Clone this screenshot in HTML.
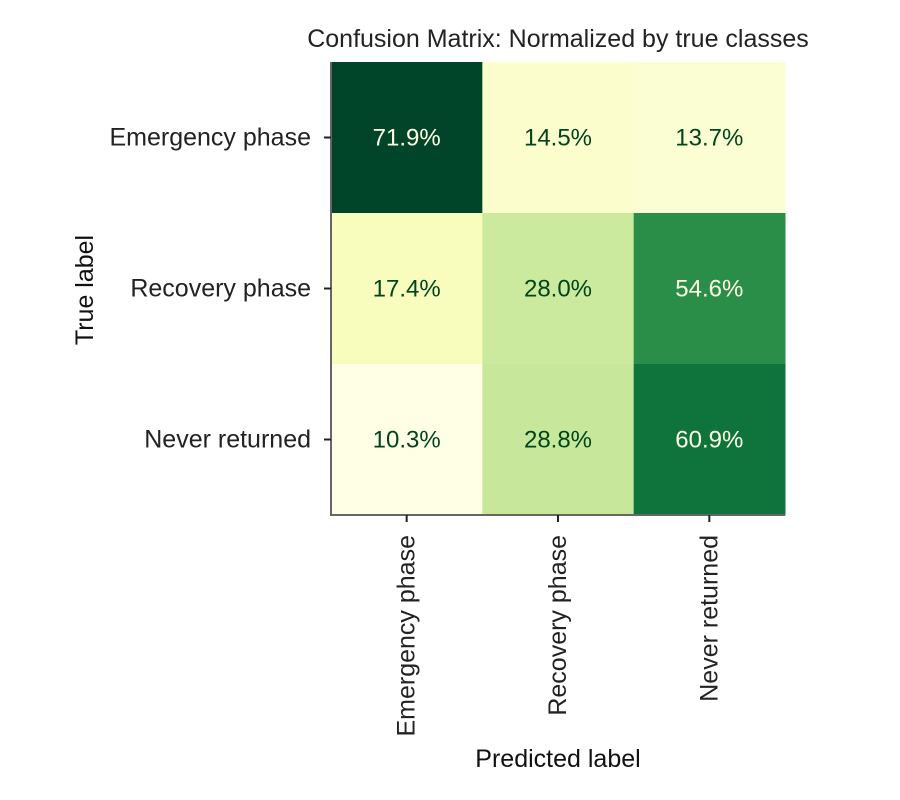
<!DOCTYPE html>
<html><head><meta charset="utf-8"><style>
html,body{margin:0;padding:0;background:#fff;}
svg{display:block;font-family:"Liberation Sans",sans-serif;}
</style></head><body>
<svg id="chart" width="900" height="800" viewBox="0 0 900 800" xmlns="http://www.w3.org/2000/svg">
<text x="558" y="47" text-anchor="middle" font-size="25" fill="#222">Confusion Matrix: Normalized by true classes</text>
<g id="cells"></g>
<g id="axes"></g>
<text transform="translate(93,290) rotate(-90)" text-anchor="middle" font-size="25" fill="#111">True label</text>
<text x="558" y="767" text-anchor="middle" font-size="25" fill="#111">Predicted label</text>
</svg>
<script>
const trueLabels = ["Emergency phase","Recovery phase","Never returned"];
const predLabels = ["Emergency phase","Recovery phase","Never returned"];
const row0 = [71.9, 14.5, 13.7];
const row1 = [17.4, 28.0, 54.6];
const row2 = [10.3, 28.8, 60.9];
const values = [row0, row1, row2];

const NS = "http://www.w3.org/2000/svg";
const L = 331, T = 62, R = 785, B = 515;
const cw = (R - L) / predLabels.length, ch = (B - T) / trueLabels.length;
const xPos = i => L + i * cw;
const yPos = i => T + i * ch;
const all = values.flat();
const vmin = Math.min(...all), vmax = Math.max(...all);
const stops = ["#ffffe5","#f7fcb9","#d9f0a3","#addd8e","#78c679","#41ab5d","#238443","#006837","#004529"];
function hex(h){return [1,3,5].map(i=>parseInt(h.substr(i,2),16));}
function cmap(v){
  let t = (v - vmin) / (vmax - vmin); t = Math.max(0, Math.min(1, t));
  const p = t * (stops.length - 1), i = Math.min(Math.floor(p), stops.length - 2), f = p - i;
  const a = hex(stops[i]), b = hex(stops[i+1]);
  return "rgb(" + a.map((c,k)=>Math.round(c + (b[k]-c)*f)).join(",") + ")";
}
function mk(tag, attrs, parent){const e=document.createElementNS(NS,tag);for(const k in attrs)e.setAttribute(k,attrs[k]);parent.appendChild(e);return e;}
const cells = document.getElementById("cells");
values.forEach((row, r) => row.forEach((v, c) => {
  const rect = mk("rect", {x:xPos(c), y:yPos(r), width:cw+0.5, height:ch+0.5, fill:cmap(v)}, cells);
  
  
  const t = (v - vmin) / (vmax - vmin);
  const tx = mk("text", {x:xPos(c)+cw/2, y:yPos(r)+ch/2+8, "text-anchor":"middle", "font-size":"24", fill: t > 0.5 ? "#ffffe5" : "#00441b"}, cells);
  tx.textContent = v.toFixed(1) + "%";
  
  
}));
const axes = document.getElementById("axes");
const sp1 = mk("line", {x1:L, y1:T, x2:L, y2:B+1, stroke:"#666", "stroke-width":2}, axes);


const sp2 = mk("line", {x1:L-1, y1:B, x2:R, y2:B, stroke:"#666", "stroke-width":2}, axes);


trueLabels.forEach((lab, i) => {
  const y = yPos(i) + ch/2;
  const tk = mk("line", {x1:L-7, y1:y, x2:L, y2:y, stroke:"#222", "stroke-width":2}, axes);
  
  
  const t = mk("text", {x:L-20, y:y+8, "text-anchor":"end", "font-size":"25", fill:"#222"}, axes);
  t.textContent = lab;
  
  
});
predLabels.forEach((lab, i) => {
  const x = xPos(i) + cw/2;
  const tk = mk("line", {x1:x, y1:B, x2:x, y2:B+7, stroke:"#222", "stroke-width":2}, axes);
  
  
  const t = mk("text", {transform:"translate("+(x+8)+","+(B+20)+") rotate(-90)", "text-anchor":"end", "font-size":"25", fill:"#222"}, axes);
  t.textContent = lab;
  
  
});
</script>
</body></html>
